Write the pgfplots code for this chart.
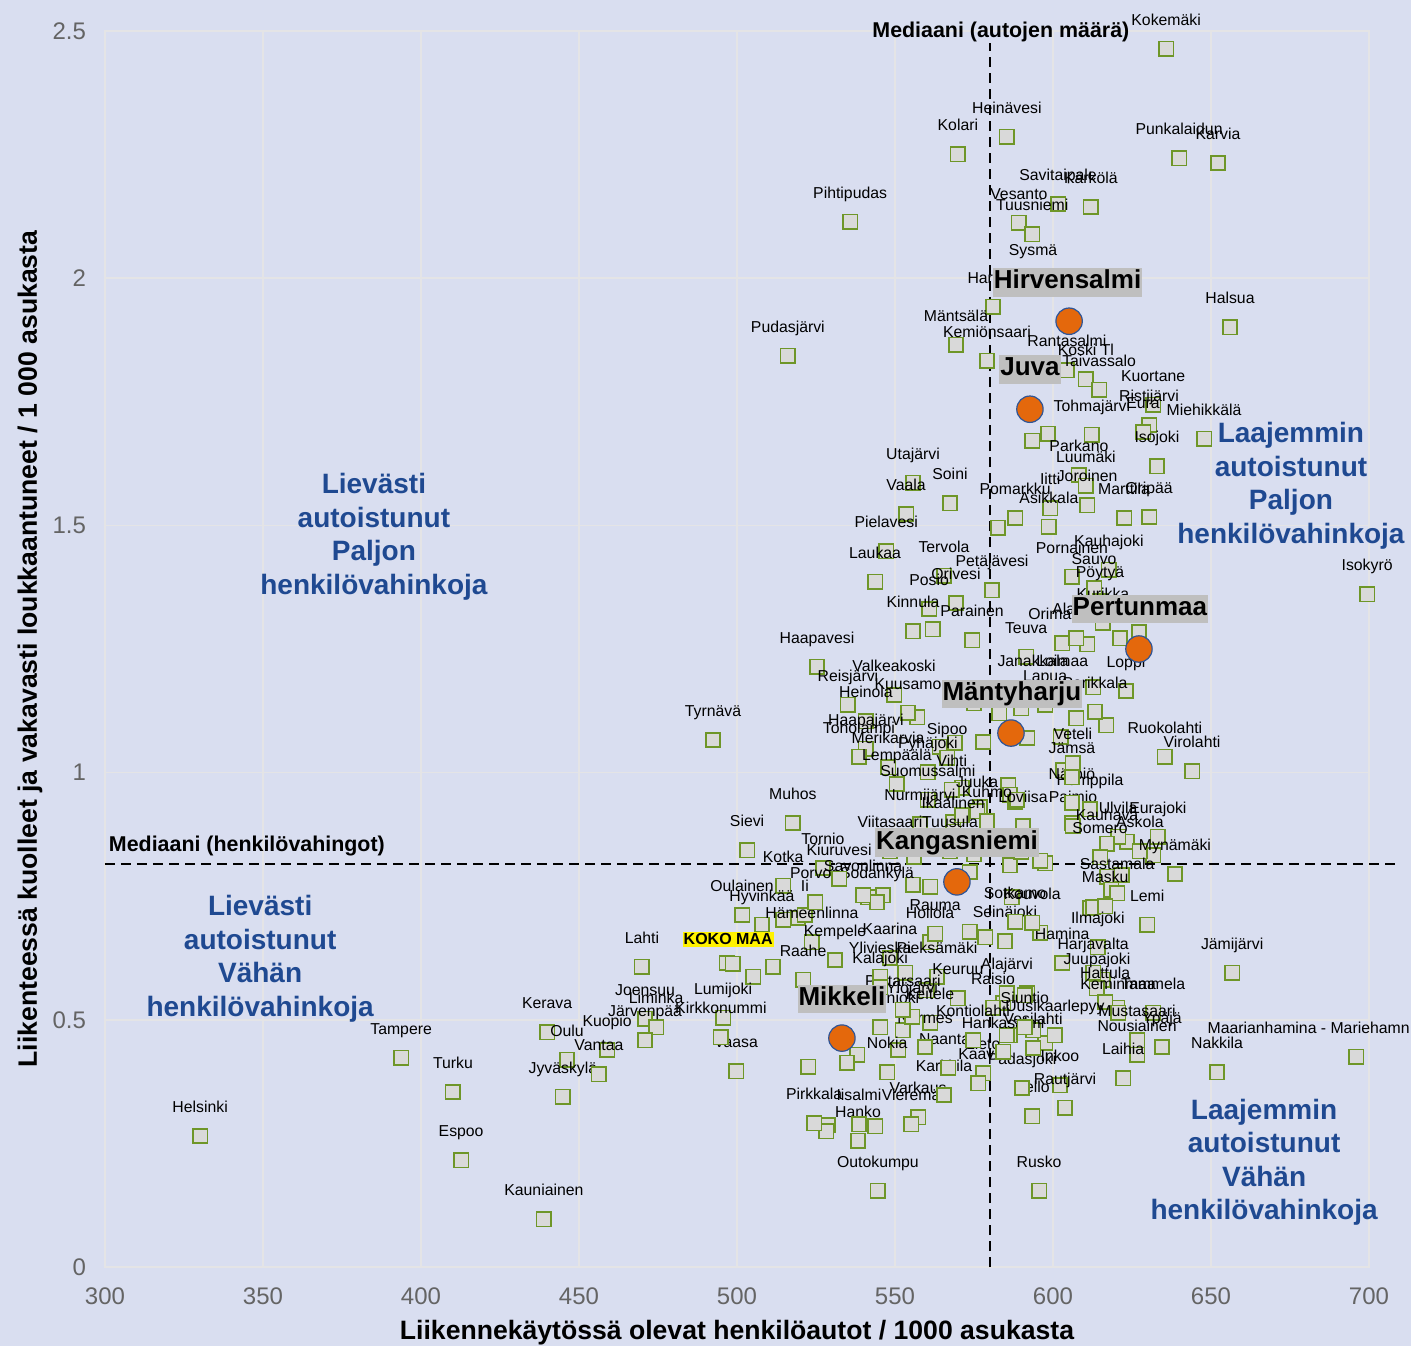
\documentclass[border=0pt]{standalone}
\usepackage{fontspec}
\setmainfont{Liberation Sans}
\usepackage{pgfplots}
\pgfplotsset{compat=1.18}
\usepackage{pgfplotstable}

\definecolor{bgc}{RGB}{217,222,240}
\definecolor{gridc}{RGB}{228,228,230}
\definecolor{mkedge}{RGB}{110,150,40}
\definecolor{mkfill}{RGB}{217,217,217}
\definecolor{orng}{RGB}{228,104,12}
\definecolor{orngedge}{RGB}{47,85,151}
\definecolor{qblue}{RGB}{31,73,145}
\definecolor{tickc}{RGB}{100,100,100}
\definecolor{boxc}{RGB}{191,191,191}
\newcommand{\lblfont}{\fontsize{7.9}{9}\selectfont}

\pgfplotstableread[col sep=comma]{
n,x,y
Kokemäki,635.8,2.464
Heinävesi,585.4,2.286
Kolari,569.9,2.251
Punkalaidun,639.9,2.243
Karvia,652.2,2.233
Pihtipudas,535.8,2.114
Savitaipale,601.6,2.150
Kärkölä,612.0,2.144
Vesanto,589.2,2.112
Tuusniemi,593.4,2.089
Sysmä,593.7,1.998
Hartola,581.0,1.942
Halsua,656.0,1.901
Pudasjärvi,516.1,1.843
Mäntsälä,569.3,1.865
Kemiönsaari,579.1,1.833
Rantasalmi,604.4,1.814
Koski Tl,610.4,1.796
Taivassalo,614.6,1.774
Kuortane,631.7,1.744
Ristijärvi,630.4,1.703
Eura,628.5,1.689
Miehikkälä,647.8,1.675
Tohmajärvi,612.3,1.683
Isojoki,632.9,1.620
Parkano,608.2,1.602
Luumäki,610.4,1.580
Utajärvi,555.7,1.586
Soini,567.4,1.545
Vaala,553.5,1.523
Iitti,599.1,1.535
Joroinen,610.8,1.541
Pomarkku,588.0,1.515
Asikkala,598.7,1.497
Marttila,622.5,1.515
Oripää,630.4,1.517
Pielavesi,547.2,1.448
Kauhajoki,617.7,1.410
Pornainen,606.0,1.396
Sauvo,613.0,1.373
Laukaa,543.7,1.386
Tervola,565.5,1.398
Petäjävesi,580.7,1.369
Orivesi,569.3,1.343
Posio,560.8,1.331
Kinnula,555.7,1.286
Parainen,574.4,1.268
Pöytyä,614.9,1.347
Kurikka,615.8,1.303
Teuva,591.5,1.234
Orimattila,602.9,1.262
Alavus,607.3,1.272
Isokyrö,699.4,1.361
Haapavesi,525.3,1.214
Valkeakoski,549.7,1.157
Reisjärvi,535.1,1.137
Kuusamo,554.1,1.121
Heinola,540.8,1.104
Haapajärvi,540.8,1.048
Toholampi,538.6,1.032
Merikarvia,547.8,1.011
Lempäälä,550.6,0.977
Sipoo,566.5,1.030
Pyhäjoki,560.4,1.001
Vihti,568.0,0.965
Suomussalmi,560.4,0.945
Juuka,576.0,0.922
Kuhmo,579.1,0.902
Nurmijärvi,557.9,0.896
Ikaalinen,568.4,0.880
Loviisa,590.5,0.892
Paimio,606.3,0.892
Humppila,611.7,0.926
Närpiö,606.0,0.939
Veteli,606.3,1.019
Jämsä,606.0,0.991
Ruokolahti,635.4,1.032
Virolahti,644.0,1.003
Loppi,623.1,1.165
Janakkala,593.7,1.167
Loimaa,602.9,1.167
Lapua,597.5,1.137
Parikkala,613.3,1.123
Ulvila,620.6,0.870
Eurajoki,633.2,0.870
Kauhava,617.1,0.856
Somero,614.9,0.829
Askola,627.5,0.841
Mynämäki,638.6,0.795
Sastamala,620.3,0.756
Masku,616.5,0.730
Lemi,629.8,0.692
Ilmajoki,614.2,0.647
Hamina,602.9,0.615
Harjavalta,612.7,0.595
Juupajoki,613.9,0.564
Hattula,616.5,0.536
Keminmaa,620.6,0.514
Tammela,631.7,0.514
Mustasaari,626.6,0.459
Ypäjä,634.5,0.445
Nousiainen,626.6,0.429
Laihia,622.2,0.382
Nakkila,651.9,0.394
Jämijärvi,656.7,0.595
Inkoo,602.2,0.368
Rautjärvi,603.8,0.322
Pello,593.4,0.305
Padasjoki,590.2,0.362
Rusko,595.6,0.154
Outokumpu,544.6,0.154
Hanko,538.3,0.255
Iisalmi,538.6,0.289
Pirkkala,524.4,0.291
Varkaus,557.3,0.303
Vieremä,555.1,0.289
Karkkila,565.5,0.348
Naantali,566.8,0.403
Lieto,577.9,0.392
Kaavi,576.3,0.372
Nokia,547.5,0.394
Vaasa,499.7,0.396
Helsinki,330.1,0.265
Tampere,393.7,0.423
Turku,410.1,0.354
Espoo,412.7,0.216
Kauniainen,438.9,0.097
Kerava,439.9,0.475
Oulu,446.2,0.419
Jyväskylä,444.9,0.344
Kuopio,458.9,0.439
Vantaa,456.3,0.390
Lahti,469.9,0.607
Joensuu,470.9,0.502
Liminka,474.4,0.485
Järvenpää,470.9,0.459
Lumijoki,495.6,0.504
Kirkkonummi,494.9,0.465
Tyrnävä,492.4,1.066
Sievi,503.2,0.843
Muhos,517.7,0.898
Kotka,514.6,0.771
Tornio,527.2,0.807
Oulainen,501.6,0.712
Hyvinkää,507.9,0.692
Ii,521.5,0.712
Hämeenlinna,523.7,0.657
Kempele,531.0,0.621
Raahe,520.9,0.581
Porvoo,524.7,0.738
Sodankylä,544.3,0.738
Savonlinna,539.9,0.752
Kiuruvesi,532.3,0.785
Hollola,561.1,0.657
Kaarina,548.4,0.625
Pieksämäki,563.3,0.587
Keuruu,569.9,0.544
Alajärvi,585.4,0.554
Raisio,581.0,0.524
Keitele,561.1,0.494
Kontiolahti,574.7,0.459
Hankasalmi,584.2,0.435
Vesilahti,593.7,0.443
Uusikaarlepyy,600.6,0.469
Nurmes,559.5,0.445
Ylöjärvi,555.4,0.506
Suonenjoki,545.3,0.485
Pietarsaari,552.5,0.520
Ylivieska,545.3,0.587
Kalajoki,545.3,0.566
Seinäjoki,584.8,0.659
Kouvola,593.4,0.696
Sotkamo,588.0,0.698
Rauma,562.7,0.674
Viitasaari,548.4,0.841
Tuusula,567.4,0.841
Siuntio,591.1,0.485
}\labtab

\pgfplotstableread[col sep=comma]{
x,y
598.4,1.685
593.4,1.671
582.6,1.495
562.0,1.290
610.8,1.260
621.2,1.272
627.2,1.284
557.0,1.112
569.0,1.060
577.9,1.062
564.2,1.052
571.2,0.969
585.8,0.975
586.4,0.955
588.0,0.941
591.8,1.070
602.5,1.072
607.3,1.110
616.8,1.096
612.7,1.173
603.2,1.005
568.4,0.900
571.2,0.914
576.9,0.930
606.0,0.898
623.4,0.860
631.7,0.833
597.5,0.817
586.4,0.813
617.2,0.789
621.8,0.793
611.7,0.726
595.9,0.676
584.2,0.534
591.8,0.554
586.4,0.469
597.5,0.453
593.7,0.479
573.7,0.799
587.0,0.748
573.7,0.678
578.5,0.667
555.7,0.773
561.1,0.769
546.2,0.752
553.2,0.595
560.1,0.560
591.1,0.550
552.5,0.479
551.0,0.439
538.0,0.429
534.8,0.413
522.5,0.405
543.7,0.285
528.8,0.287
528.2,0.275
511.4,0.607
505.1,0.587
496.8,0.615
514.6,0.702
519.3,0.706
541.5,0.748
588.6,0.945
615.8,0.581
620.3,0.524
618.4,0.763
612.7,0.728
585.4,0.469
498.7,0.613
695.9,0.425
556.0,0.830
562.0,0.845
575.0,0.835
583.0,0.860
590.0,0.840
596.0,0.822
575.0,1.140
583.0,1.120
590.0,1.130
600.0,1.150
}\untab

\begin{document}
\begin{tikzpicture}
\fill[bgc] (-52.5pt,-39.5pt) rectangle (653pt,633.5pt);
\begin{axis}[
  at={(0,0)}, anchor=south west,
  scale only axis, width=632pt, height=618pt,
  xmin=300, xmax=700, ymin=0, ymax=2.5,
  xtick={300,350,400,450,500,550,600,650,700},
  ytick={0,0.5,1,1.5,2,2.5},
  grid=major, major grid style={draw=gridc, line width=0.8pt},
  axis line style={draw=gridc, line width=0.8pt},
  tick style={draw=none},
  clip=false,
  /pgf/number format/assume math mode=true,
  ticklabel style={font=\fontsize{12}{14}\selectfont, text=tickc},
  xticklabel style={yshift=-7pt},
  yticklabel style={xshift=-6pt},
  xlabel={Liikennekäytössä olevat henkilöautot / 1000 asukasta},
  ylabel={Liikenteessä kuolleet ja vakavasti loukkaantuneet / 1 000 asukasta},
  every axis x label/.style={at={(axis description cs:0.5,0)}, anchor=center, yshift=-33pt, font=\bfseries\fontsize{13.3}{15}\selectfont},
  every axis y label/.style={at={(axis description cs:0,0.5)}, anchor=center, xshift=-37.5pt, rotate=90, font=\bfseries\fontsize{13.3}{15}\selectfont},
]
\addplot[only marks, mark=square*, mark size=3.6pt,
  mark options={fill=mkfill, draw=mkedge, line width=0.75pt}]
  table[x=x,y=y]{\untab};
\addplot[only marks, mark=square*, mark size=3.6pt,
  mark options={fill=mkfill, draw=mkedge, line width=0.75pt},
  nodes near coords, point meta=explicit symbolic,
  every node near coord/.append style={font=\lblfont, text=black, inner sep=0pt, text depth=1.7pt, yshift=9.8pt}]
  table[x=x,y=y,meta=n]{\labtab};
\addplot[black, dash pattern=on 5pt off 3pt, line width=1.2pt] coordinates {(580.1,0) (580.1,2.476)};
\addplot[black, dash pattern=on 5pt off 3pt, line width=1.2pt] coordinates {(300,0.815) (709.8,0.815)};
\addplot[only marks, mark=*, mark size=6.6pt,
  mark options={fill=orng, draw=orngedge, line width=0.6pt}]
  coordinates {(605.1,1.913) (592.7,1.735) (627.2,1.250) (586.7,1.080) (569.6,0.779) (533.2,0.463)};

\coordinate (b1) at (axis cs:604.6,1.992);
\coordinate (b2) at (axis cs:592.7,1.816);
\coordinate (b3) at (axis cs:627.5,1.331);
\coordinate (b4) at (axis cs:587.0,1.159);
\coordinate (b5) at (axis cs:569.6,0.858);
\coordinate (b6) at (axis cs:533.2,0.542);
\coordinate (kk) at (axis cs:497.2,0.663);
\coordinate (ma) at (axis cs:680.9,0.473);
\coordinate (m1) at (axis cs:583.5,2.498);
\coordinate (m2) at (axis cs:344.9,0.852);
\coordinate (q1) at (axis cs:385.1,1.477);
\coordinate (q2) at (axis cs:349.1,0.623);
\coordinate (q3) at (axis cs:675.3,1.580);
\coordinate (q4) at (axis cs:666.8,0.212);
\end{axis}

\node[font=\lblfont, anchor=base] at (ma) {Maarianhamina - Mariehamn};
\node[fill=yellow, font=\bfseries\fontsize{8}{9}\selectfont, inner xsep=0.5pt, inner ysep=1pt] at (kk) {KOKO MAA};

\tikzset{hbox/.style={fill=boxc, font=\bfseries\fontsize{13}{15}\selectfont, inner xsep=0.5pt, inner ysep=1pt, text height=9.6pt, text depth=2.8pt}}
\node[hbox] at (b1) {Hirvensalmi};
\node[hbox] at (b2) {Juva};
\node[hbox] at (b3) {Pertunmaa};
\node[hbox] at (b4) {Mäntyharju};
\node[hbox] at (b5) {Kangasniemi};
\node[hbox] at (b6) {Mikkeli};

\node[font=\bfseries\fontsize{10.7}{12}\selectfont] at (m1) {Mediaani (autojen määrä)};
\node[font=\bfseries\fontsize{10.7}{12}\selectfont] at (m2) {Mediaani (henkilövahingot)};

\tikzset{qlab/.style={align=center, text=qblue, font=\bfseries\fontsize{14}{16.75}\selectfont}}
\node[qlab] at (q1) {Lievästi\\autoistunut\\Paljon\\henkilövahinkoja};
\node[qlab] at (q2) {Lievästi\\autoistunut\\Vähän\\henkilövahinkoja};
\node[qlab] at (q3) {Laajemmin\\autoistunut\\Paljon\\henkilövahinkoja};
\node[qlab] at (q4) {Laajemmin\\autoistunut\\Vähän\\henkilövahinkoja};

\pgfresetboundingbox
\path[use as bounding box] (-52.5pt,-39.5pt) rectangle (653pt,633.5pt);
\end{tikzpicture}
\end{document}
